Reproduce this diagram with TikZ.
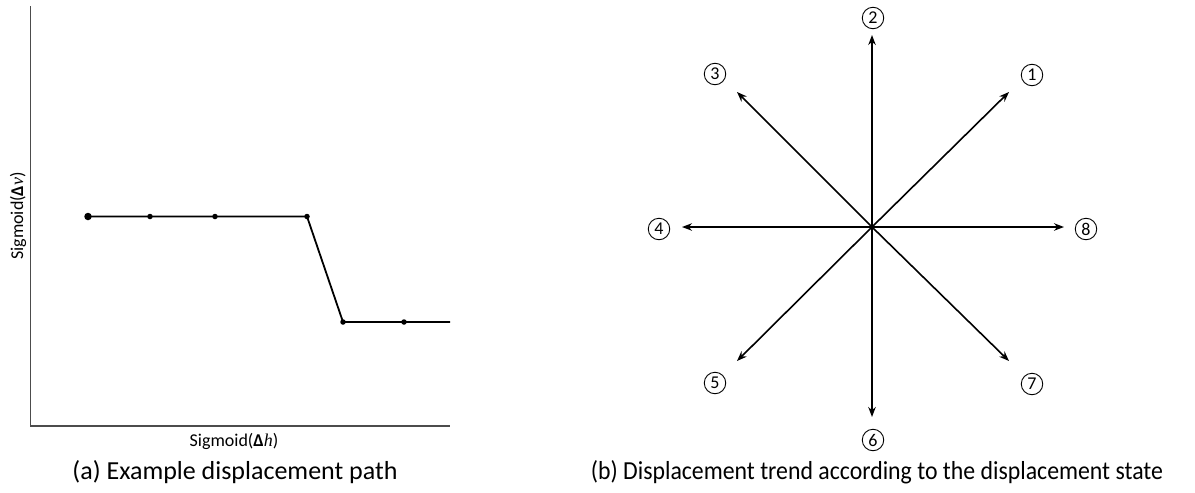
\documentclass[tikz,border=0pt]{standalone}
\usepackage{fontspec}
\setmainfont{Carlito}
\newfontfamily\varfont{Liberation Serif}
\usetikzlibrary{arrows.meta}
\newcommand{\dvar}[1]{{\varfont\itshape #1}}
\begin{document}
\begin{tikzpicture}[x=1pt,y=-1pt,
  axisline/.style={draw=black!70, line width=1.1pt},
  pathline/.style={draw=black, line width=1.8pt},
  dot/.style={circle, fill=black, inner sep=0pt, minimum size=5.5pt},
  bigdot/.style={circle, fill=black, inner sep=0pt, minimum size=7.5pt},
  dirarrow/.style={draw=black, line width=1.6pt, -{Stealth[length=10pt,width=7.5pt]}},
  caption/.style={font=\fontsize{26}{30}\selectfont, inner sep=0pt},
  axislabel/.style={font=\fontsize{18}{22}\selectfont, inner sep=0pt},
  numlabel/.style={circle, draw=black, line width=0.9pt, minimum size=21.5pt, inner sep=0pt,
                   font=\fontsize{18}{19}\selectfont}]
\useasboundingbox (0,0) rectangle (1195,493);
% ---- panel (a) ----
\coordinate (ytop) at (30.5,6);
\coordinate (origin) at (30.5,426);
\coordinate (xend) at (450,426);
\draw[axisline] (ytop) -- (origin) -- (xend);
\node[bigdot] (p1) at (88,216.5) {};
\node[dot] (p2) at (150,216.5) {};
\node[dot] (p3) at (215,216.5) {};
\node[dot] (p4) at (307,216.5) {};
\node[dot] (p5) at (343,322) {};
\node[dot] (p6) at (404,322) {};
\coordinate (pend) at (450,322);
\draw[pathline] (p1.center) -- (p2.center) -- (p3.center) -- (p4.center) -- (p5.center) -- (p6.center) -- (pend);
\node[axislabel, rotate=90] (ylab) at (18,216) {Sigmoid(\textbf{Δ}\dvar{v})};
\node[axislabel] (xlab) at (234,441) {Sigmoid(\textbf{Δ}\dvar{h})};
\node[caption] (capa) at (235,472) {(a) Example displacement path};
% ---- panel (b) ----
\coordinate (c) at (872,227);
\coordinate (e2) at (872,35);
\coordinate (e6) at (872,417);
\coordinate (e4) at (682,227);
\coordinate (e8) at (1064,227);
\coordinate (e1) at (1009,92);
\coordinate (e3) at (737,92);
\coordinate (e5) at (737,361);
\coordinate (e7) at (1009,361);
\foreach \e in {e1,e2,e3,e4,e5,e6,e7,e8}
  \draw[dirarrow] (c) -- (\e);
\node[numlabel] (n2) at (873,18) {2};
\node[numlabel] (n3) at (715,74) {3};
\node[numlabel] (n1) at (1032,75) {1};
\node[numlabel] (n4) at (659,229) {4};
\node[numlabel] (n8) at (1086,229) {8};
\node[numlabel] (n5) at (715,383) {5};
\node[numlabel] (n7) at (1032,384) {7};
\node[numlabel] (n6) at (873,440) {6};
\node[caption, xscale=0.915, transform shape] (capb) at (877,472) {(b) Displacement trend according to the displacement state};
\end{tikzpicture}
\end{document}
